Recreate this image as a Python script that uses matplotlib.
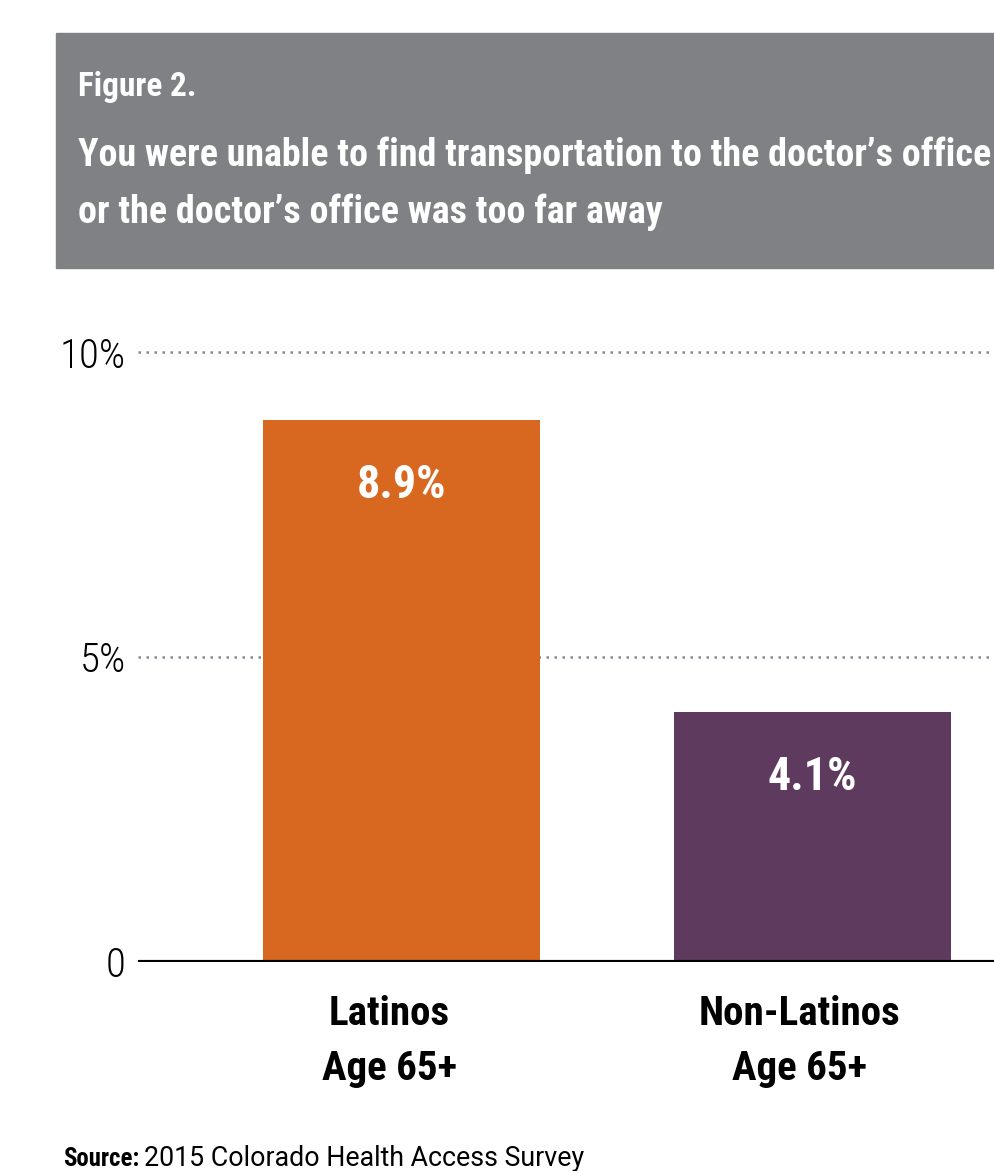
import matplotlib
matplotlib.use('Agg')
import matplotlib.pyplot as plt
from matplotlib.patches import Rectangle

categories = ['Latinos', 'Non-Latinos']
subtitles = ['Age 65+', 'Age 65+']
values = [8.9, 4.1]
value_labels = ['8.9%', '4.1%']
colors = ['#D86820', '#5E3B5E']
yticks = [0, 5, 10]
ytick_labels = ['0', '5%', '10%']

plt.rcParams['font.family'] = ['Roboto Condensed', 'Roboto', 'DejaVu Sans']

W, H = 994, 1171
fig = plt.figure(figsize=(W / 100, H / 100), dpi=100)
renderer = fig.canvas.get_renderer()


def fit_size(s, target_px, **kw):
    # font size that makes s about target_px wide
    t = fig.text(0, 0, s, fontsize=20, **kw)
    w = t.get_window_extent(renderer).width
    t.remove()
    return 20 * target_px / w


def fy(py):
    return 1 - py / H


# grey header box
fig.patches.append(Rectangle((56 / W, fy(268)), 1 - 56 / W, 235 / H,
                             transform=fig.transFigure, color='#808184', zorder=0))
fs = fit_size('Figure 2.', 118, fontweight='bold')
fig.text(78 / W, fy(96), 'Figure 2.', color='white', fontsize=fs, fontweight='bold', va='baseline')
line1 = 'You were unable to find transportation to the doctor\u2019s office'
fs = fit_size(line1, 910, fontweight='bold')
fig.text(78 / W, fy(166), line1, color='white', fontsize=fs, fontweight='bold', va='baseline')
fig.text(78 / W, fy(223), 'or the doctor\u2019s office was too far away', color='white',
         fontsize=fs, fontweight='bold', va='baseline')

ax = fig.add_axes([138 / W, fy(962), 1 - 138 / W, 640 / H])
x = [0, 1]
ax.bar(x, values, width=0.675, color=colors, zorder=2)
fs = fit_size('8.9%', 90, fontweight='bold')
for xi, v, lab in zip(x, values, value_labels):
    ax.text(xi, v - 1.28, lab, ha='center', va='baseline', color='white',
            fontsize=fs, fontweight='bold')

ax.set_xlim(-0.642, 1.443)
ax.set_ylim(0, 10.5)
for g in [5, 10]:
    ax.axhline(g, color='#7F8894', linestyle=(0, (1, 2.2)), linewidth=1.8, zorder=1)
ax.axhline(0, color='black', linewidth=3, zorder=3)

fs = fit_size('10%', 66, fontweight='light')
ax.set_yticks(yticks)
ax.set_yticklabels(ytick_labels, fontsize=fs, fontweight='light')
ax.tick_params(axis='both', length=0)
ax.tick_params(axis='y', pad=9)
ax.set_xticks([])
for s in ax.spines.values():
    s.set_visible(False)

fs = fit_size('Non-Latinos', 202, fontweight='bold')
for xi, c, sub in zip(x, categories, subtitles):
    ax.text(xi - 0.03, -0.0984, c, transform=ax.get_xaxis_transform(), ha='center',
            va='baseline', fontsize=fs, fontweight='bold')
    ax.text(xi - 0.03, -0.184, sub, transform=ax.get_xaxis_transform(), ha='center',
            va='baseline', fontsize=fs, fontweight='bold')

fs = fit_size('Source:', 76, fontweight='bold')
t = fig.text(63 / W, fy(1166), 'Source:', fontsize=fs, fontweight='bold', va='baseline')
x1 = t.get_window_extent(renderer).x1
src = '2015 Colorado Health Access Survey'
fs = fit_size(src, 583 - x1 - 5, family=['Roboto', 'DejaVu Sans'])
fig.text((x1 + 5) / W, fy(1166), src, fontsize=fs, va='baseline', family=['Roboto', 'DejaVu Sans'])

fig.savefig('out.png', dpi=100)
